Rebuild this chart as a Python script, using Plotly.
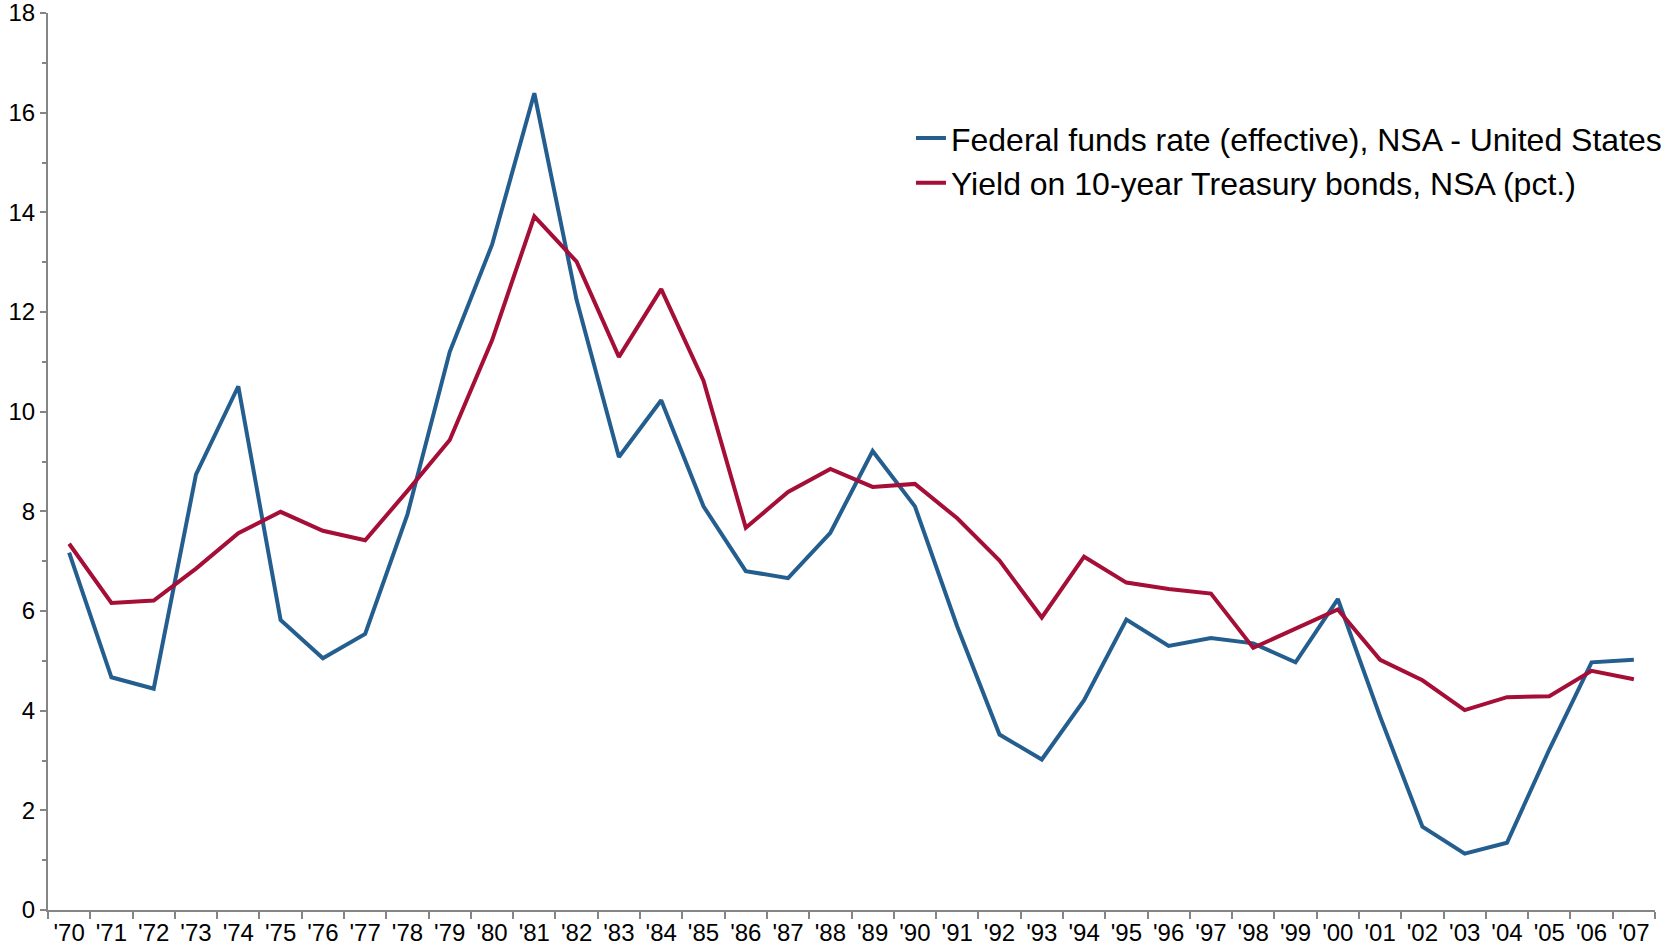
import plotly.graph_objects as go

# Annual averages, 1970-2007
years = ["'70", "'71", "'72", "'73", "'74", "'75", "'76", "'77", "'78", "'79",
         "'80", "'81", "'82", "'83", "'84", "'85", "'86", "'87", "'88", "'89",
         "'90", "'91", "'92", "'93", "'94", "'95", "'96", "'97", "'98", "'99",
         "'00", "'01", "'02", "'03", "'04", "'05", "'06", "'07"]

fed_funds = [7.17, 4.67, 4.44, 8.74, 10.51, 5.82, 5.05, 5.54, 7.94, 11.20,
             13.35, 16.39, 12.24, 9.09, 10.23, 8.10, 6.80, 6.66, 7.57, 9.21,
             8.10, 5.69, 3.52, 3.02, 4.21, 5.83, 5.30, 5.46, 5.35, 4.97,
             6.24, 3.88, 1.67, 1.13, 1.35, 3.22, 4.97, 5.02]

treasury_10y = [7.35, 6.16, 6.21, 6.85, 7.56, 7.99, 7.61, 7.42, 8.41, 9.43,
                11.43, 13.92, 13.01, 11.10, 12.46, 10.62, 7.67, 8.39, 8.85, 8.49,
                8.55, 7.86, 7.01, 5.87, 7.09, 6.57, 6.44, 6.35, 5.26, 5.65,
                6.03, 5.02, 4.61, 4.01, 4.27, 4.29, 4.80, 4.63]

y_ticks = [0, 2, 4, 6, 8, 10, 12, 14, 16, 18]

axis_grey = '#858585'

fig = go.Figure()

fig.add_trace(go.Scatter(
    x=years, y=fed_funds, mode='lines',
    name='Federal funds rate (effective), NSA - United States',
    line=dict(color='#245E8F', width=4),
    legendgroup='a'
))
fig.add_trace(go.Scatter(
    x=years, y=treasury_10y, mode='lines',
    name='Yield on 10-year Treasury bonds, NSA (pct.)',
    line=dict(color='#A50E36', width=4),
    legendgroup='b'
))

fig.update_layout(
    width=1663, height=949,
    margin=dict(l=48, r=8, t=13, b=39, autoexpand=False),
    paper_bgcolor='white', plot_bgcolor='white',
    font=dict(family='Liberation Sans, Arial, sans-serif', color='black', size=24),
    showlegend=True,
    legend=dict(
        x=0.537, y=0.891, xanchor='left', yanchor='top',
        font=dict(size=32, color='black'),
        bgcolor='rgba(0,0,0,0)', borderwidth=0,
        tracegroupgap=0
    ),
    xaxis=dict(
        type='category', range=[-0.5, len(years) - 0.5],
        showline=True, linecolor=axis_grey, linewidth=2,
        ticks='outside', tickson='boundaries', ticklen=7,
        tickcolor=axis_grey, tickwidth=1.5,
        showgrid=False, zeroline=False, automargin=False,
        tickfont=dict(size=24)
    ),
    yaxis=dict(
        range=[0, 18], tickvals=y_ticks,
        showline=True, linecolor=axis_grey, linewidth=2,
        ticks='outside', ticklen=6, tickcolor=axis_grey, tickwidth=1.5,
        minor=dict(dtick=1, ticks='outside', ticklen=4, tickcolor=axis_grey, tickwidth=1.5),
        showgrid=False, zeroline=False, automargin=False,
        ticklabeloverflow='allow',
        tickfont=dict(size=24)
    )
)

# drop the page's default body margin so the figure sits at the window corner
fig.write_html("out.html", config={'displayModeBar': False},
               post_script="document.body.style.margin='0';")
